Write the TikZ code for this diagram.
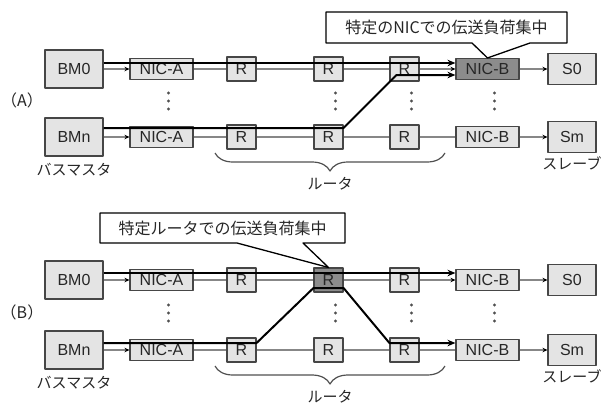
\documentclass[tikz,border=0pt]{standalone}
\usepackage{fontspec}
\setmainfont{Liberation Sans}
\newfontfamily\jpfont{Noto Sans CJK JP}
\usetikzlibrary{arrows.meta,decorations.pathreplacing,calc,positioning}
\definecolor{boxfill}{RGB}{228,228,228}
\definecolor{hotfill}{RGB}{140,140,140}
\definecolor{boxline}{RGB}{70,70,70}
\definecolor{linkc}{RGB}{135,135,135}
\definecolor{dotc}{RGB}{80,80,80}
\begin{document}
\begin{tikzpicture}[x=1pt, y=-1pt, line join=round, >={Stealth[length=5pt,width=4.5pt,color=black]}]
\tikzset{every node/.style={font=\fontsize{16}{18}\selectfont, inner sep=0pt, text=black!85},
  box/.style={draw=boxline, fill=boxfill, line width=1.1pt},
  bmbox/.style={box, minimum width=58pt, minimum height=38pt},
  nicbox/.style={box, minimum width=63pt, minimum height=21pt},
  rbox/.style={box, minimum width=29pt, minimum height=24pt},
  sbox/.style={box, minimum width=48pt, minimum height=31pt},
  link/.style={draw=linkc, line width=1.1pt},
  flow/.style={draw=black, line width=2pt},
  flowtip/.style={-{Stealth[length=8pt,width=6.5pt]}},
  note/.style={draw=black, line width=1.3pt},
  jp/.style={font=\jpfont\fontsize{16}{18}\selectfont},
  jplbl/.style={font=\jpfont\fontsize{15}{17}\selectfont},
  brace/.style={draw=dotc, line width=1.2pt, decorate, decoration={brace, amplitude=18pt}}}
\useasboundingbox (0,0) rectangle (609,405);
% two panels, two rows each
\foreach \p/\yt/\yb/\hn/\hr in {A/69/137/hotfill/boxfill, B/280/350/boxfill/hotfill}{
  \foreach \q/\y/\m/\s/\fn/\fr/\a in {t/\yt/0/0/\hn/\hr/->, b/\yb/n/m/boxfill/boxfill/-}{
    \node[bmbox] (bm\p\q) at (74,\y) {BM\m};
    \node[nicbox] (nica\p\q) at (161.5,\y) {NIC-A};
    \node[rbox] (ra\p\q) at (241.5,\y) {R};
    \node[rbox, fill=\fr] (rb\p\q) at (328.5,\y) {R};
    \node[rbox] (rc\p\q) at (404.5,\y) {R};
    \node[nicbox, fill=\fn] (nicb\p\q) at (487.5,\y) {NIC-B};
    \node[sbox] (sl\p\q) at (572,\y) {S\s};
    \draw[link,->] (bm\p\q) -- (nica\p\q);
    \draw[link] (nica\p\q) -- (ra\p\q) -- (rb\p\q) -- (rc\p\q);
    \draw[link,\a] (rc\p\q) -- (nicb\p\q);
    \draw[link,->] (nicb\p\q) -- (sl\p\q);
  }
  \foreach \n in {nica,rb,rc,nicb}
    \foreach \d in {-10,-2,6}
      \fill[dotc] ($(\n\p t)!0.5!(\n\p b)+(7,\d)$) circle (1.7pt);
  \node[jp] (side\p) at (22,{(\yt+\yb)/2-3}) {（\p）};
  \node[jplbl, below=6pt of bm\p b] (mst\p) {バスマスタ};
  \node[jplbl, below=3pt of sl\p b] (slv\p) {スレーブ};
  \draw[brace] (445,{\yb+16}) -- (215,{\yb+16});
  \node[jplbl] (rt\p) at (330,{\yb+47}) {ルータ};
}
% load concentration paths
\draw[flow,flowtip] ([yshift=6pt]bmAt.east) -- ([yshift=6pt]nicbAt.west);
\draw[flow,flowtip] ([yshift=9pt]bmAb.east) -- ([yshift=9pt]rbAb.east) -- ([xshift=7pt,yshift=-6pt]rcAt.west) -- ([yshift=-6pt]nicbAt.west);
\draw[flow,flowtip] ([yshift=7pt]bmBt.east) -- ([yshift=7pt]nicbBt.west);
\draw[flow,flowtip] ([yshift=7pt]bmBb.east) -- ([yshift=7pt]raBb.east) -- ([yshift=-8pt]rbBt.west) -- ([yshift=-8pt]rbBt.east) -- ([yshift=7pt]rcBb.west) -- ([yshift=7pt]nicbBb.west);
% callouts
\draw[note] (326,43) -- (472,43) -- (nicbAt.north) -- (530,43) -- (567,43) -- (567,12) -- (326,12) -- cycle;
\node[jp] (noteA) at (446.5,27.5) {特定のNICでの伝送負荷集中};
\draw[note] (100,243) -- (237,243) -- (rbBt.north) -- (303,243) -- (345,243) -- (345,213) -- (100,213) -- cycle;
\node[jp] (noteB) at (222.5,228) {特定ルータでの伝送負荷集中};
\end{tikzpicture}
\end{document}
